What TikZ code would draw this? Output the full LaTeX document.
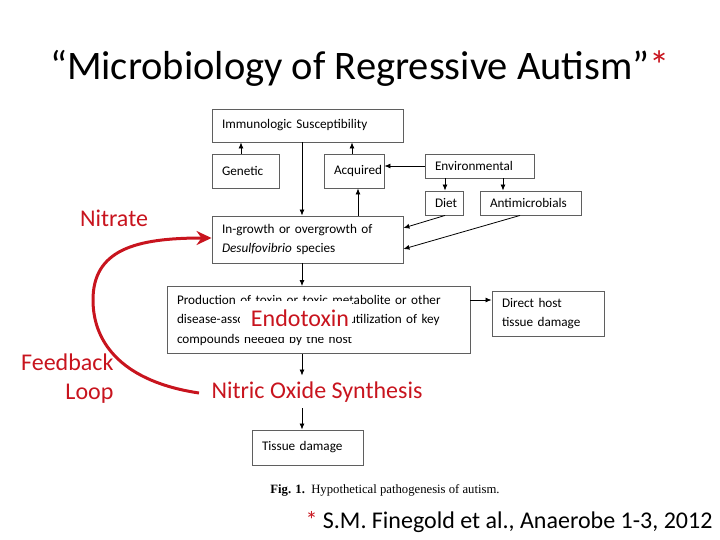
\documentclass[tikz,border=0pt]{standalone}
\usepackage{fontspec}
\setmainfont{Carlito}
\newfontfamily\capfont{Liberation Serif}
\usetikzlibrary{arrows.meta}
\definecolor{myred}{RGB}{200,20,30}
\definecolor{boxgray}{RGB}{95,95,95}
\tikzset{
  bx/.style={draw=boxgray, fill=white, line width=0.9pt, align=left, inner xsep=10pt, inner ysep=0pt,
    font=\fontsize{13.2}{19.5}\selectfont},
  arr/.style={draw=black, line width=0.8pt, -{Latex[length=6pt,width=5pt]}},
  redtxt/.style={text=myred, font=\fontsize{24}{29}\selectfont},
  redline/.style={draw=myred, line width=3pt, -{Stealth[length=15pt,width=14pt]}}
}
\begin{document}
\begin{tikzpicture}[x=1pt,y=-1pt]
\useasboundingbox (0,0) rectangle (720,540);
% title
\node (title) at (360,68) {\fontsize{40.5}{46}\selectfont “Microbiology of Regressive Autism”\textcolor{myred}{*}};
% boxes
\node[bx, minimum width=191pt, minimum height=33pt, text width=171pt] (imm) at (307.5,125.5) {Immunologic Susceptibility};
\node[bx, minimum width=67pt, minimum height=34pt, text width=47pt] (gen) at (245.5,171) {Genetic};
\node[bx, minimum width=60pt, minimum height=34pt, text width=40pt] (acq) at (354,171) {Acquired};
\node[bx, minimum width=109pt, minimum height=24pt, text width=89pt] (env) at (479.5,166) {Environmental};
\node[bx, minimum width=38pt, minimum height=24pt, text width=18pt, inner xsep=9pt] (diet) at (444,203) {Diet};
\node[bx, minimum width=101pt, minimum height=24pt, text width=81pt] (anti) at (530.5,203) {Antimicrobials};
\node[bx, minimum width=191pt, minimum height=47pt, text width=171pt] (ing) at (307.5,239.5) {In-growth or overgrowth of\\\textit{Desulfovibrio} species};
\node[bx, minimum width=303pt, minimum height=67pt, text width=283pt] (prod) at (318.5,320) {Production of toxin or toxic metabolite or other\\disease-associated products or utilization of key\\compounds needed by the host};
\node[bx, minimum width=112pt, minimum height=45pt, text width=92pt] (dir) at (548,313.5) {Direct host\\tissue damage};
\node[bx, minimum width=111pt, minimum height=35pt, text width=91pt] (tis) at (307.5,447.5) {Tissue damage};
% endotoxin overlay
\node[redtxt, fill=white, minimum width=112pt, minimum height=36pt, inner sep=0pt] (endo) at (296,318.5) {\hspace*{8pt}Endotoxin};
% red labels
\node[redtxt, inner ysep=6pt, inner xsep=3pt] (nos) at (317,392) {Nitric Oxide Synthesis};
\node[redtxt] (nitrate) at (114,218) {Nitrate};
\node[redtxt, align=right, anchor=east] (fb) at (117,379) {Feedback\\Loop};
% connectors
\draw[arr] (241,0 |- gen.north) -- (241,0 |- imm.south);
\draw[arr] (352,0 |- acq.north) -- (352,0 |- imm.south);
\draw[arr] (env.west |- 0,166) -- (acq.east |- 0,166);
\draw[arr] (445,0 |- env.south) -- (445,0 |- diet.north);
\draw[arr] (503,0 |- env.south) -- (503,0 |- anti.north);
\draw[arr] (302,0 |- imm.south) -- (302,0 |- ing.north);
\draw[arr] (358,0 |- ing.north) -- (358,0 |- acq.south);
\draw[arr] (445,0 |- diet.south) -- (ing.east |- 0,228);
\draw[arr] (520,0 |- anti.south) -- (ing.east |- 0,249);
\draw[arr] (302,0 |- ing.south) -- (302,0 |- prod.north);
\draw[arr] (prod.east |- 0,300) -- (dir.west |- 0,300);
\draw[arr] (302,0 |- prod.south) -- (302,0 |- nos.north);
\draw[arr] (302,0 |- nos.south) -- (302,0 |- tis.north);
% feedback loop
\coordinate (fbs) at (199,393);
\draw[redline] (fbs) .. controls (125,382) and (93,345) .. (93,300) .. controls (93,250) and (135,238) .. (ing.west |- 0,238);
% caption
\node (cap) at (385,490) {\capfont\fontsize{12.7}{14}\selectfont\textbf{Fig. 1.}\ \ Hypothetical pathogenesis of autism.};
% footer
\node[anchor=east] (foot) at (716,522) {\fontsize{24}{28}\selectfont\textcolor{myred}{*} S.M. Finegold et al., Anaerobe 1-3, 2012};
\end{tikzpicture}
\end{document}
